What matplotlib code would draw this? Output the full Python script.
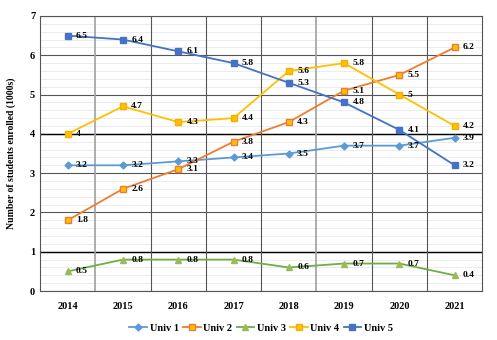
import numpy as np
import matplotlib.pyplot as plt
from matplotlib.ticker import MultipleLocator

plt.rcParams['font.family'] = ['Liberation Serif', 'DejaVu Serif']
plt.rcParams['font.weight'] = 'bold'

years = ['2014', '2015', '2016', '2017', '2018', '2019', '2020', '2021']
univ1 = [3.2, 3.2, 3.3, 3.4, 3.5, 3.7, 3.7, 3.9]
univ2 = [1.8, 2.6, 3.1, 3.8, 4.3, 5.1, 5.5, 6.2]
univ3 = [0.5, 0.8, 0.8, 0.8, 0.6, 0.7, 0.7, 0.4]
univ4 = [4, 4.7, 4.3, 4.4, 5.6, 5.8, 5, 4.2]
univ5 = [6.5, 6.4, 6.1, 5.8, 5.3, 4.8, 4.1, 3.2]
names = ['Univ 1', 'Univ 2', 'Univ 3', 'Univ 4', 'Univ 5']

series = [univ1, univ2, univ3, univ4, univ5]
styles = [
    dict(color='#5B9BD5', marker='D', ms=3.5, mfc='#5B9BD5', mec='#5B9BD5'),
    dict(color='#ED7D31', marker='s', ms=5, mfc='#FFC000', mec='#ED7D31'),
    dict(color='#70AD47', marker='^', ms=5, mfc='#9BBB59', mec='#9BBB59'),
    dict(color='#FFC000', marker='s', ms=5, mfc='#FFC000', mec='#F4B000'),
    dict(color='#4472C4', marker='s', ms=5, mfc='#4472C4', mec='#4472C4'),
]

fig = plt.figure(figsize=(4.97, 3.40), dpi=100)
ax = fig.add_axes([0.0805, 0.144, 0.89, 0.809])
x = np.arange(len(years))

ax.set_xlim(-0.5, len(years) - 0.5)
ax.set_ylim(0, 7)
ax.yaxis.set_major_locator(MultipleLocator(1))
ax.yaxis.set_minor_locator(MultipleLocator(0.2))
ax.grid(which='minor', axis='y', color='#ECECEC', lw=0.7)
ax.grid(which='major', axis='y', color='#555555', lw=0.8)
for yv in [1, 4]:
    ax.axhline(yv, color='black', lw=1.0, zorder=1)
for i in range(1, len(years)):
    light = i in (1, 5)
    ax.axvline(i - 0.5, color='#A0A0A0' if light else '#555555',
               lw=1.2 if light else 0.8, zorder=1)
ax.set_axisbelow(True)

for vals, name, st in zip(series, names, styles):
    ax.plot(x, vals, lw=1.3, label=name, zorder=3, **st)
    for xi, v in zip(x, vals):
        ax.annotate(f'{v:g}', (xi, v), xytext=(6, 0), textcoords='offset points',
                    va='center', ha='left', fontsize=6.8, fontweight='bold', zorder=4)

ax.set_xticks(x)
ax.set_xticklabels(years, fontsize=7.5, fontweight='bold')
ax.tick_params(axis='y', labelsize=7.5, length=0)
ax.tick_params(axis='x', length=0, pad=8)
ax.tick_params(which='minor', length=0)
for lab in ax.get_yticklabels():
    lab.set_fontweight('bold')
ax.set_ylabel('Number of students enrolled (1000s)', fontsize=7, fontweight='bold', labelpad=10)
for s in ax.spines.values():
    s.set_color('#555555')
    s.set_linewidth(0.8)

ax.legend(loc='upper center', bbox_to_anchor=(0.5, -0.085), ncol=5, frameon=False,
          handlelength=1.7, columnspacing=0.4, handletextpad=0.25,
          prop={'weight': 'bold', 'size': 7.5})

fig.savefig('out.png', dpi=100)
